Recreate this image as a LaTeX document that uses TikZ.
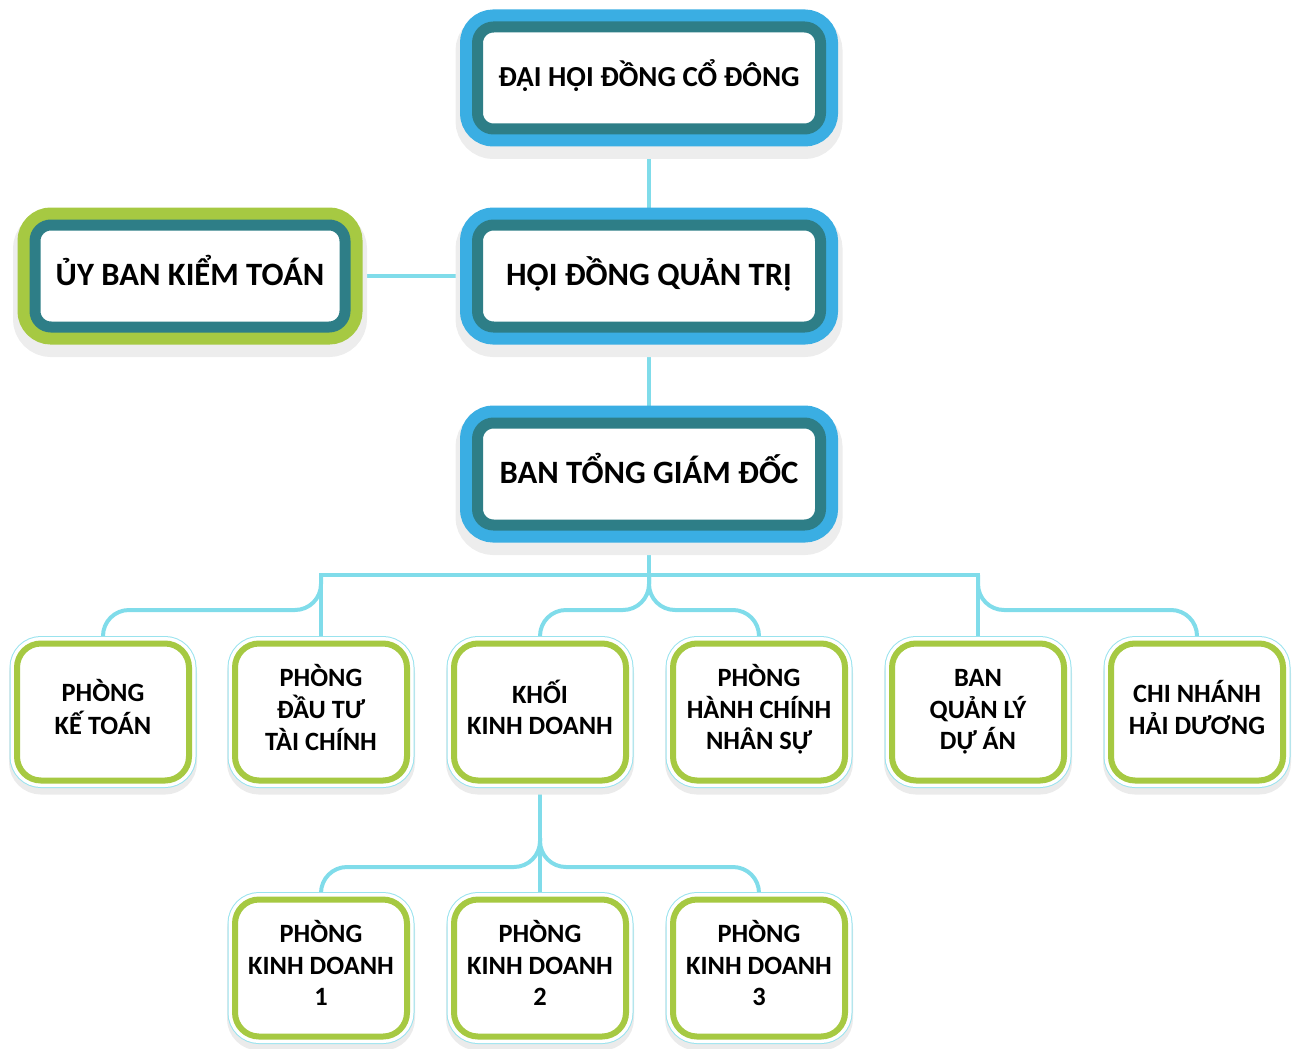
\documentclass[tikz,border=0pt]{standalone}
\usepackage{fontspec}
\setmainfont{Carlito}
\usetikzlibrary{backgrounds}
\definecolor{boxblue}{HTML}{3AAEE3}
\definecolor{boxteal}{HTML}{2E7E87}
\definecolor{boxgreen}{HTML}{A6C942}
\definecolor{linecyan}{HTML}{80DCEA}
\newcommand{\boxlines}[1]{\begin{tabular}{@{}c@{}}#1\end{tabular}}
\tikzset{
  bigbox/.style={draw=boxteal, line width=5.5pt, fill=white, rounded corners=8pt,
    minimum width=171.5pt, minimum height=51pt, inner sep=0pt,
    font=\bfseries\fontsize{16.3}{24}\selectfont,
    preaction={draw=black!7, line width=22pt, transform canvas={yshift=-4pt}}},
  bluebox/.style={bigbox, preaction={draw=boxblue, line width=17.5pt}},
  greenbox/.style={bigbox, minimum width=155pt, preaction={draw=boxgreen, line width=17.5pt}},
  unitbox/.style={draw=boxgreen, line width=3pt, fill=white, rounded corners=12pt,
    minimum width=86pt, minimum height=68.5pt, inner sep=0pt,
    font=\bfseries\fontsize{13.2}{15.8}\selectfont,
    preaction={draw=black!8, line width=8pt, transform canvas={yshift=-3pt}},
    preaction={draw=linecyan!80, line width=7.5pt},
    preaction={draw=white, line width=6.5pt}},
  link/.style={draw=linecyan, line width=2pt}
}
\begin{document}
\begin{tikzpicture}[x=0.5pt, y=-0.5pt]
  \useasboundingbox (0,0) rectangle (1293,1048);
  \node[bluebox, font=\bfseries\fontsize{14.5}{22}\selectfont] (dhd) at (649,78) {\boxlines{ĐẠI HỘI ĐỒNG CỔ ĐÔNG}};
  \node[bluebox] (hdqt) at (649,276) {\boxlines{HỘI ĐỒNG QUẢN TRỊ}};
  \node[bluebox] (btgd) at (649,474) {\boxlines{BAN TỔNG GIÁM ĐỐC}};
  \node[greenbox] (ubkt) at (190,276) {\boxlines{ỦY BAN KIỂM TOÁN}};

  \node[unitbox] (ketoan) at (103,712) {\boxlines{PHÒNG\\KẾ TOÁN}};
  \node[unitbox] (dautu) at (321,712) {\boxlines{PHÒNG\\ĐẦU TƯ\\TÀI CHÍNH}};
  \node[unitbox] (khoikd) at (540,712) {\boxlines{KHỐI\\KINH DOANH}};
  \node[unitbox] (hcns) at (759,712) {\boxlines{PHÒNG\\HÀNH CHÍNH\\NHÂN SỰ}};
  \node[unitbox] (qlda) at (978,712) {\boxlines{BAN\\QUẢN LÝ\\DỰ ÁN}};
  \node[unitbox] (chinhanh) at (1197,712) {\boxlines{CHI NHÁNH\\HẢI DƯƠNG}};

  \node[unitbox] (kd1) at (321,968) {\boxlines{PHÒNG\\KINH DOANH\\1}};
  \node[unitbox] (kd2) at (540,968) {\boxlines{PHÒNG\\KINH DOANH\\2}};
  \node[unitbox] (kd3) at (759,968) {\boxlines{PHÒNG\\KINH DOANH\\3}};

  \coordinate (busl) at (321,575);
  \coordinate (busm) at (649,575);
  \coordinate (busr) at (978,575);
  \coordinate (subfork) at (540,838);

  \begin{pgfonlayer}{background}
    \path[link] (dhd) -- (hdqt);
    \path[link] (hdqt) -- (btgd);
    \path[link] (ubkt) -- (hdqt);
    \path[link] (btgd) -- (busm);
    \path[link] (dautu.north) -- (busl) -- (busr) -- (qlda.north);
    \path[link, rounded corners=13pt] (busl) -- ++(0,35) -| (ketoan.north);
    \path[link, rounded corners=13pt] (busm) -- ++(0,35) -| (khoikd.north);
    \path[link, rounded corners=13pt] (busm) -- ++(0,35) -| (hcns.north);
    \path[link, rounded corners=13pt] (busr) -- ++(0,35) -| (chinhanh.north);
    \path[link] (khoikd) -- (kd2);
    \path[link, rounded corners=13pt] (subfork) -- ++(0,29) -| (kd1.north);
    \path[link, rounded corners=13pt] (subfork) -- ++(0,29) -| (kd3.north);
  \end{pgfonlayer}
\end{tikzpicture}
\end{document}
